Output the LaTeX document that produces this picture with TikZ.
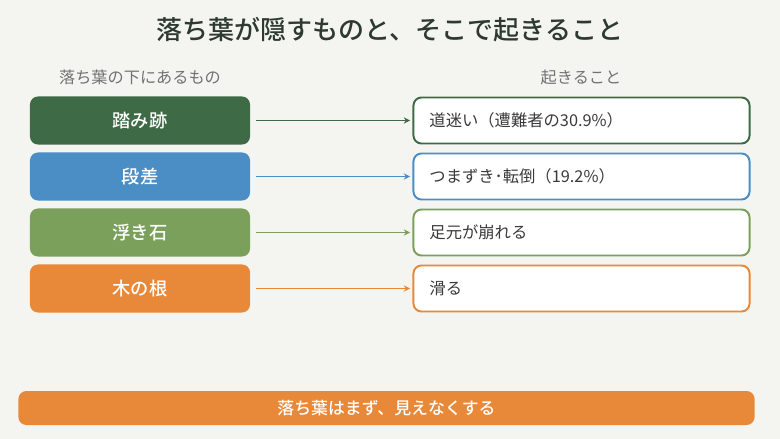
\documentclass[tikz,border=0pt]{standalone}
\usepackage{fontspec}
\setmainfont{Noto Sans CJK JP}
\newfontfamily\medfont{Noto Sans CJK JP Medium}
\usepackage{tikz}
\usetikzlibrary{arrows.meta}

\definecolor{bgcol}{HTML}{F4F5F1}
\definecolor{titlecol}{HTML}{2E3A31}
\definecolor{subcol}{HTML}{707370}
\definecolor{textcol}{HTML}{3A3A3A}
\definecolor{trailcol}{HTML}{3E6B45}
\definecolor{stepcol}{HTML}{4A8EC5}
\definecolor{stonecol}{HTML}{7BA05B}
\definecolor{rootcol}{HTML}{E8893A}

\tikzset{
  cause/.style={rounded corners=0.2cm, minimum width=5.5cm, minimum height=1.2cm,
                text=white, font=\fontsize{13}{15}\selectfont\medfont},
  effect/.style={draw, line width=1.4pt, fill=white, rounded corners=0.2cm,
                 minimum height=1.15cm, text width=7.6cm, inner xsep=0.4cm,
                 align=left, text=textcol, font=\fontsize{11.6}{13}\selectfont},
  arr/.style={-{Stealth[length=4.5pt,width=4.5pt]}, line width=0.9pt,
              shorten <=0.15cm, shorten >=0.06cm},
}

\begin{document}
\begin{tikzpicture}[x=0.025cm, y=-0.025cm]
\fill[bgcol] (0,0) rectangle (780,439);

\node[text=titlecol, font=\fontsize{18.5}{22}\selectfont\medfont] (title) at (390,30) {落ち葉が隠すものと、そこで起きること};
\node[text=subcol, font=\fontsize{11.5}{14}\selectfont] (hleft) at (140,77) {落ち葉の下にあるもの};
\node[text=subcol, font=\fontsize{11.5}{14}\selectfont] (hright) at (581,77) {起きること};

% causes
\node[cause, fill=trailcol] (c1) at (140,120.5) {踏み跡};
\node[cause, fill=stepcol]  (c2) at (140,176.5) {段差};
\node[cause, fill=stonecol] (c3) at (140,232.5) {浮き石};
\node[cause, fill=rootcol]  (c4) at (140,288.5) {木の根};

% effects
\node[effect, draw=trailcol] (e1) at (581.5,120.5) {道迷い（遭難者の30.9\%）};
\node[effect, draw=stepcol]  (e2) at (581.5,176.5) {つまずき･転倒（19.2\%）};
\node[effect, draw=stonecol] (e3) at (581.5,232.5) {足元が崩れる};
\node[effect, draw=rootcol]  (e4) at (581.5,288.5) {滑る};

\draw[arr, trailcol] (c1) -- (e1);
\draw[arr, stepcol]  (c2) -- (e2);
\draw[arr, stonecol] (c3) -- (e3);
\draw[arr, rootcol]  (c4) -- (e4);

% bottom bar
\node[fill=rootcol, rounded corners=0.2cm, minimum width=18.4cm, minimum height=0.85cm,
      text=white, font=\fontsize{12}{14}\selectfont\medfont] (note) at (386.5,408) {落ち葉はまず、見えなくする};

\end{tikzpicture}
\end{document}
